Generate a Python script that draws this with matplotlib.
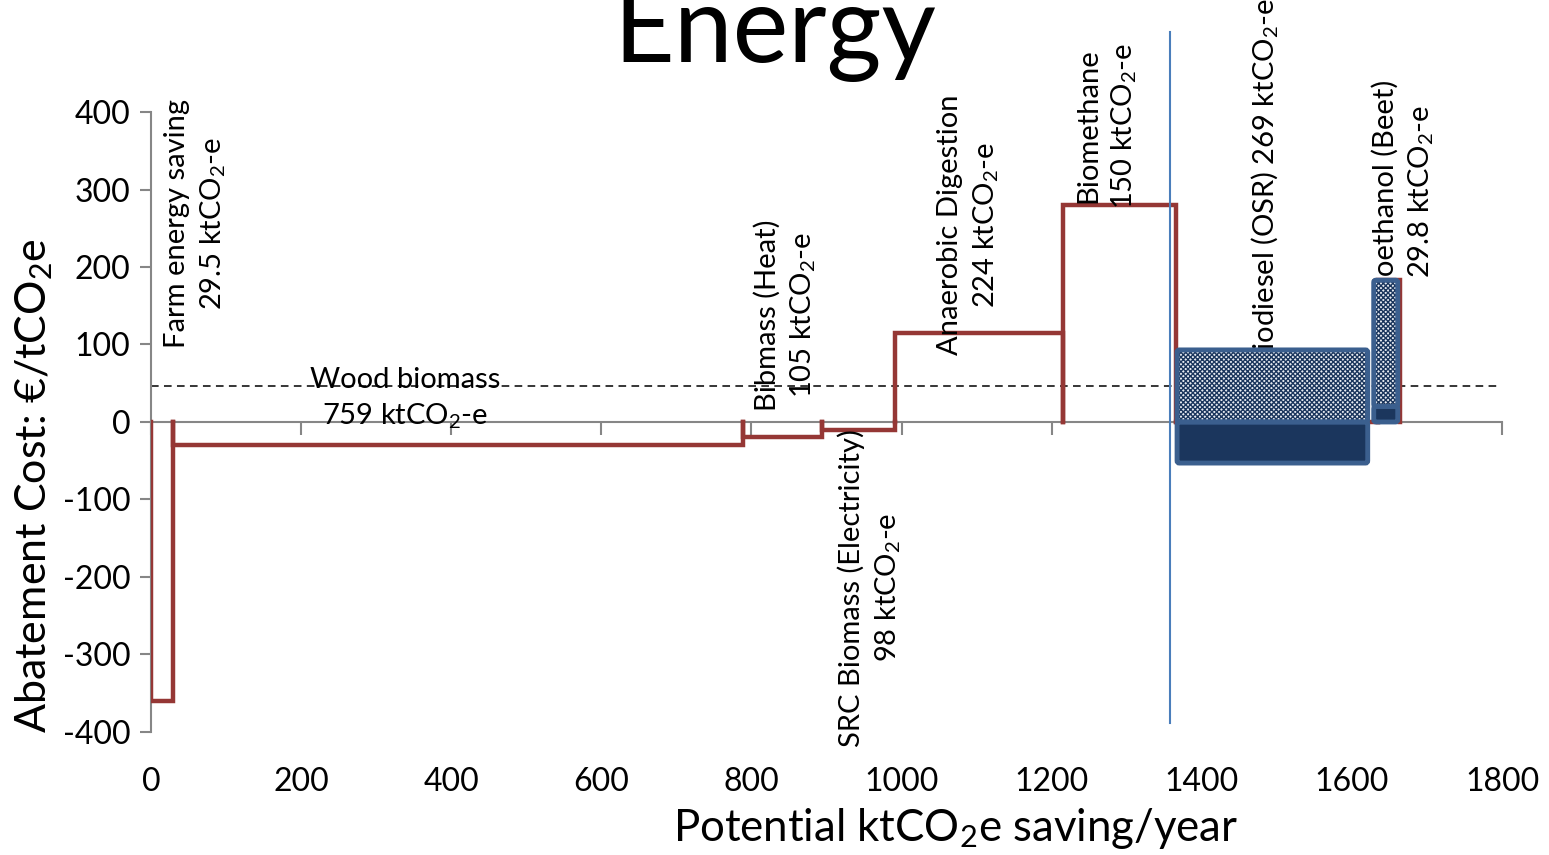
import matplotlib
matplotlib.use('Agg')
import matplotlib.pyplot as plt
from matplotlib.patches import FancyBboxPatch, Rectangle
import numpy as np

# abatement options (width = saving potential, height = cost)
options = ['Farm energy saving', 'Wood biomass', 'Bibmass (Heat)',
           'SRC Biomass (Electricity)', 'Anaerobic Digestion', 'Biomethane',
           'Biodiesel (OSR)', 'Bioethanol (Beet)']
savings = [29.5, 759, 105, 98, 224, 150, 269, 29.8]
costs = [-360, -30, -20, -10, 115, 280, 0, 183]

# uncertainty boxes for the biofuels
box_x0 = [1367, 1367, 1629, 1629]
box_x1 = [1621, 1621, 1661, 1661]
box_low = [0, -53, 20, 0]
box_high = [93, 0, 183, 20]
box_kind = ['dots', 'dark', 'dots', 'dark']

ref_cost = 47          # dashed reference line
split_x = 1358         # vertical divider
x_ticks = np.arange(0, 1801, 200)
y_ticks = np.arange(-400, 401, 100)

plt.rcParams['font.family'] = 'Lato'
plt.rcParams['mathtext.fontset'] = 'custom'
plt.rcParams['mathtext.rm'] = 'Lato'
plt.rcParams['mathtext.it'] = 'Lato:italic'
plt.rcParams['mathtext.bf'] = 'Lato:bold'
plt.rcParams['axes.unicode_minus'] = False

red = '#953735'
gray = '#868686'
edge_blue = '#3B5F8E'
navy = '#1B365D'

fig = plt.figure(figsize=(15.49, 8.55), dpi=100)
ax = fig.add_axes([0.0975, 0.1439, 0.8722, 0.7251])
ax.set_xlim(0, 1800)
ax.set_ylim(-400, 400)

# red outline blocks
starts = np.concatenate([[0], np.cumsum(savings)[:-1]])
for x0, w, c in zip(starts, savings, costs):
    ax.plot([x0, x0, x0 + w, x0 + w], [0, c, c, 0], color=red, lw=3.2,
            solid_joinstyle='miter', zorder=3)

# biofuel boxes
for x0, x1, lo, hi, kind in zip(box_x0, box_x1, box_low, box_high, box_kind):
    if kind == 'dots':
        fill = Rectangle((x0, lo), x1 - x0, hi - lo, facecolor='#E8ECF2',
                         edgecolor=navy, hatch='xxxxxxx', lw=0, zorder=4)
    else:
        fill = Rectangle((x0, lo), x1 - x0, hi - lo, facecolor=navy,
                         edgecolor=navy, lw=0, zorder=4)
    ax.add_patch(fill)
    border = FancyBboxPatch((x0, lo), x1 - x0, hi - lo,
                            boxstyle='round,pad=0,rounding_size=3',
                            facecolor='none', edgecolor=edge_blue, lw=3.5, zorder=5)
    ax.add_patch(border)

ax.axhline(ref_cost, xmin=0, xmax=1797 / 1800, color='black', lw=1.1,
           dashes=(5, 3.5), zorder=2)
ax.plot([split_x, split_x], [-388, 503], color='#4A7EBB', lw=1.5,
        clip_on=False, zorder=6)

# labels
sub = 'ktCO$_2$-e'
label_text = ['Farm energy saving\n29.5 ' + sub,
              'Wood biomass\n759 ' + sub,
              'Bibmass (Heat)\n105 ' + sub,
              'SRC Biomass (Electricity)\n98 ' + sub,
              'Anaerobic Digestion\n224 ' + sub,
              'Biomethane\n150 ' + sub,
              'Biodiesel (OSR) 269 ' + sub,
              'Bioethanol (Beet)\n29.8 ' + sub]
label_x = [60, 338, 846, 958, 1090, 1274, 1484, 1669]
label_y = [256, 30, 138, -214, 254, 382, 308, 298]
label_rot = [90, 0, 90, 90, 90, 90, 90, 90]
for t, lx, ly, r in zip(label_text, label_x, label_y, label_rot):
    ax.text(lx, ly, t, rotation=r, ha='center', va='center', fontsize=21,
            linespacing=1.35, zorder=3)

for s in ['top', 'right']:
    ax.spines[s].set_visible(False)
ax.spines['bottom'].set_position(('data', 0))
ax.spines['bottom'].set_color(gray)
ax.spines['left'].set_color(gray)
ax.spines['bottom'].set_linewidth(1.5)
ax.spines['left'].set_linewidth(1.5)
ax.set_xticks(x_ticks)
ax.set_yticks(y_ticks)
ax.tick_params(axis='x', length=9, width=1.5, color=gray, labelbottom=False)
ax.tick_params(axis='y', length=8, width=1.5, color=gray, labelsize=23, pad=7)

sec = ax.secondary_xaxis('bottom')
sec.set_xticks(x_ticks)
sec.spines['bottom'].set_visible(False)
sec.tick_params(length=0, labelsize=23, pad=25)

fig.text(0.50, 0.927, 'Energy', fontsize=76, ha='center', va='baseline')
fig.text(0.617, 0.031, 'Potential ktCO$_2$e saving/year', fontsize=31.5,
         ha='center', va='center')
fig.text(0.022, 0.432, 'Abatement Cost: €/tCO$_2$e', fontsize=31,
         rotation=90, ha='center', va='center')

fig.savefig('out.png', dpi=100)
